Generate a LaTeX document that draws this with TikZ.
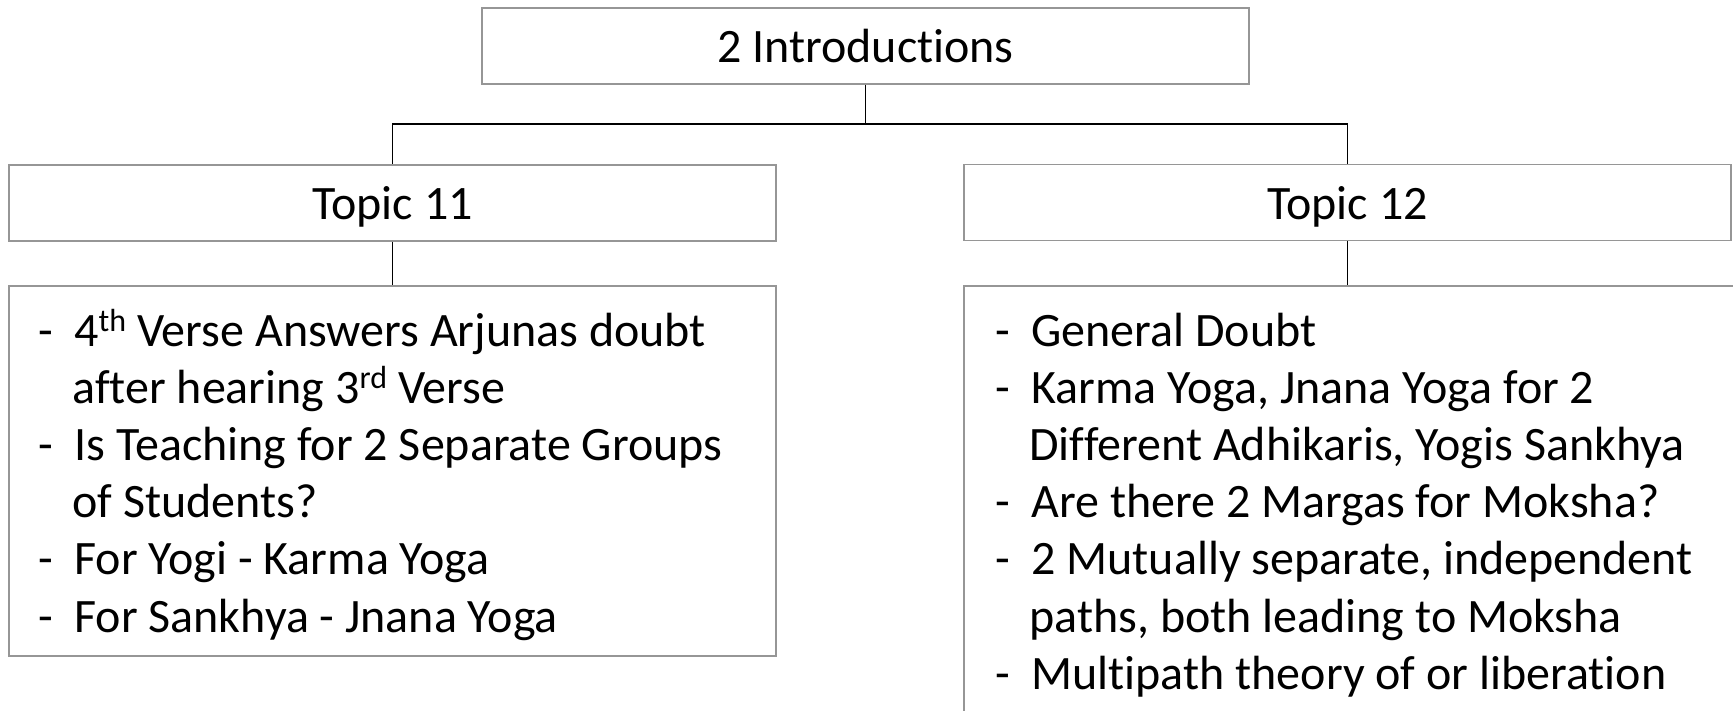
\documentclass[tikz,border=0pt]{standalone}
\usepackage{fontspec}
\setmainfont[Ligatures=NoCommon]{Carlito}
\usetikzlibrary{positioning}
\definecolor{myborder}{RGB}{150,150,150}
\definecolor{myblack}{RGB}{0,0,0}
\newcommand{\dashitem}{\makebox[18pt][l]{-}}
\newcommand{\dashcont}{\hspace*{17pt}}
\newcommand{\mysup}[1]{\raisebox{0.3em}{\fontsize{16pt}{16pt}\selectfont #1}}

\begin{document}
\begin{tikzpicture}[
  x=0.5pt, y=-0.5pt,
  mybox/.style={
    draw=myborder,
    line width=0.75pt,
    rectangle,
    inner sep=0pt,
    text depth=0pt,
    minimum width=383.5pt,
    minimum height=#1,
    font=\fontsize{24pt}{28.6pt}\selectfont
    },
  mylist/.style={
    anchor=base west,
    inner sep=0pt,
    font=\fontsize{24pt}{28.6pt}\selectfont
  },
  myline/.style={
    draw=myblack,
    line width=0.65pt
  }
]
\useasboundingbox (0,0) rectangle (1733,711);

\node[mybox=38pt] (intro) at (865.5,46) {2 Introductions};
\node[mybox=38pt] (topic11) at (392.5,203) {Topic 11};
\node[mybox=38pt] (topic12) at (1347.5,202.5) {Topic 12};

\node[mybox=185pt] (list11) at (392.5,471) {};
\node[mybox=227pt, minimum width=386pt] (list12) at (1350,513) {};

\node[mylist] (text11) at (38,346)
  {\begin{tabular}[t]{@{}l@{}}
  \dashitem 4\mysup{th} Verse Answers Arjunas doubt\\
  \dashcont after hearing 3\mysup{rd} Verse\\
  \dashitem Is Teaching for 2 Separate Groups\\
  \dashcont of Students?\\
  \dashitem For Yogi - Karma Yoga\\
  \dashitem For Sankhya - Jnana Yoga
  \end{tabular}};

\node[mylist] (text12) at (995,346)
  {\begin{tabular}[t]{@{}l@{}}
  \dashitem General Doubt\\
  \dashitem Karma Yoga, Jnana Yoga for 2\\
  \dashcont Different Adhikaris, Yogis Sankhya\\
  \dashitem Are there 2 Margas for Moksha?\\
  \dashitem 2 Mutually separate, independent\\
  \dashcont paths, both leading to Moksha\\
  \dashitem Multipath theory of or liberation
  \end{tabular}};

% tree connectors
\coordinate (fork) at (865.5,124);
\draw[myline] (intro) -- (fork);
\draw[myline] (fork) -| (topic11);
\draw[myline] (fork) -| (topic12);
\foreach \Topic in {11,12}
  \draw[myline] (topic\Topic) -- (topic\Topic |- list\Topic.north);

\end{tikzpicture}
\end{document}
